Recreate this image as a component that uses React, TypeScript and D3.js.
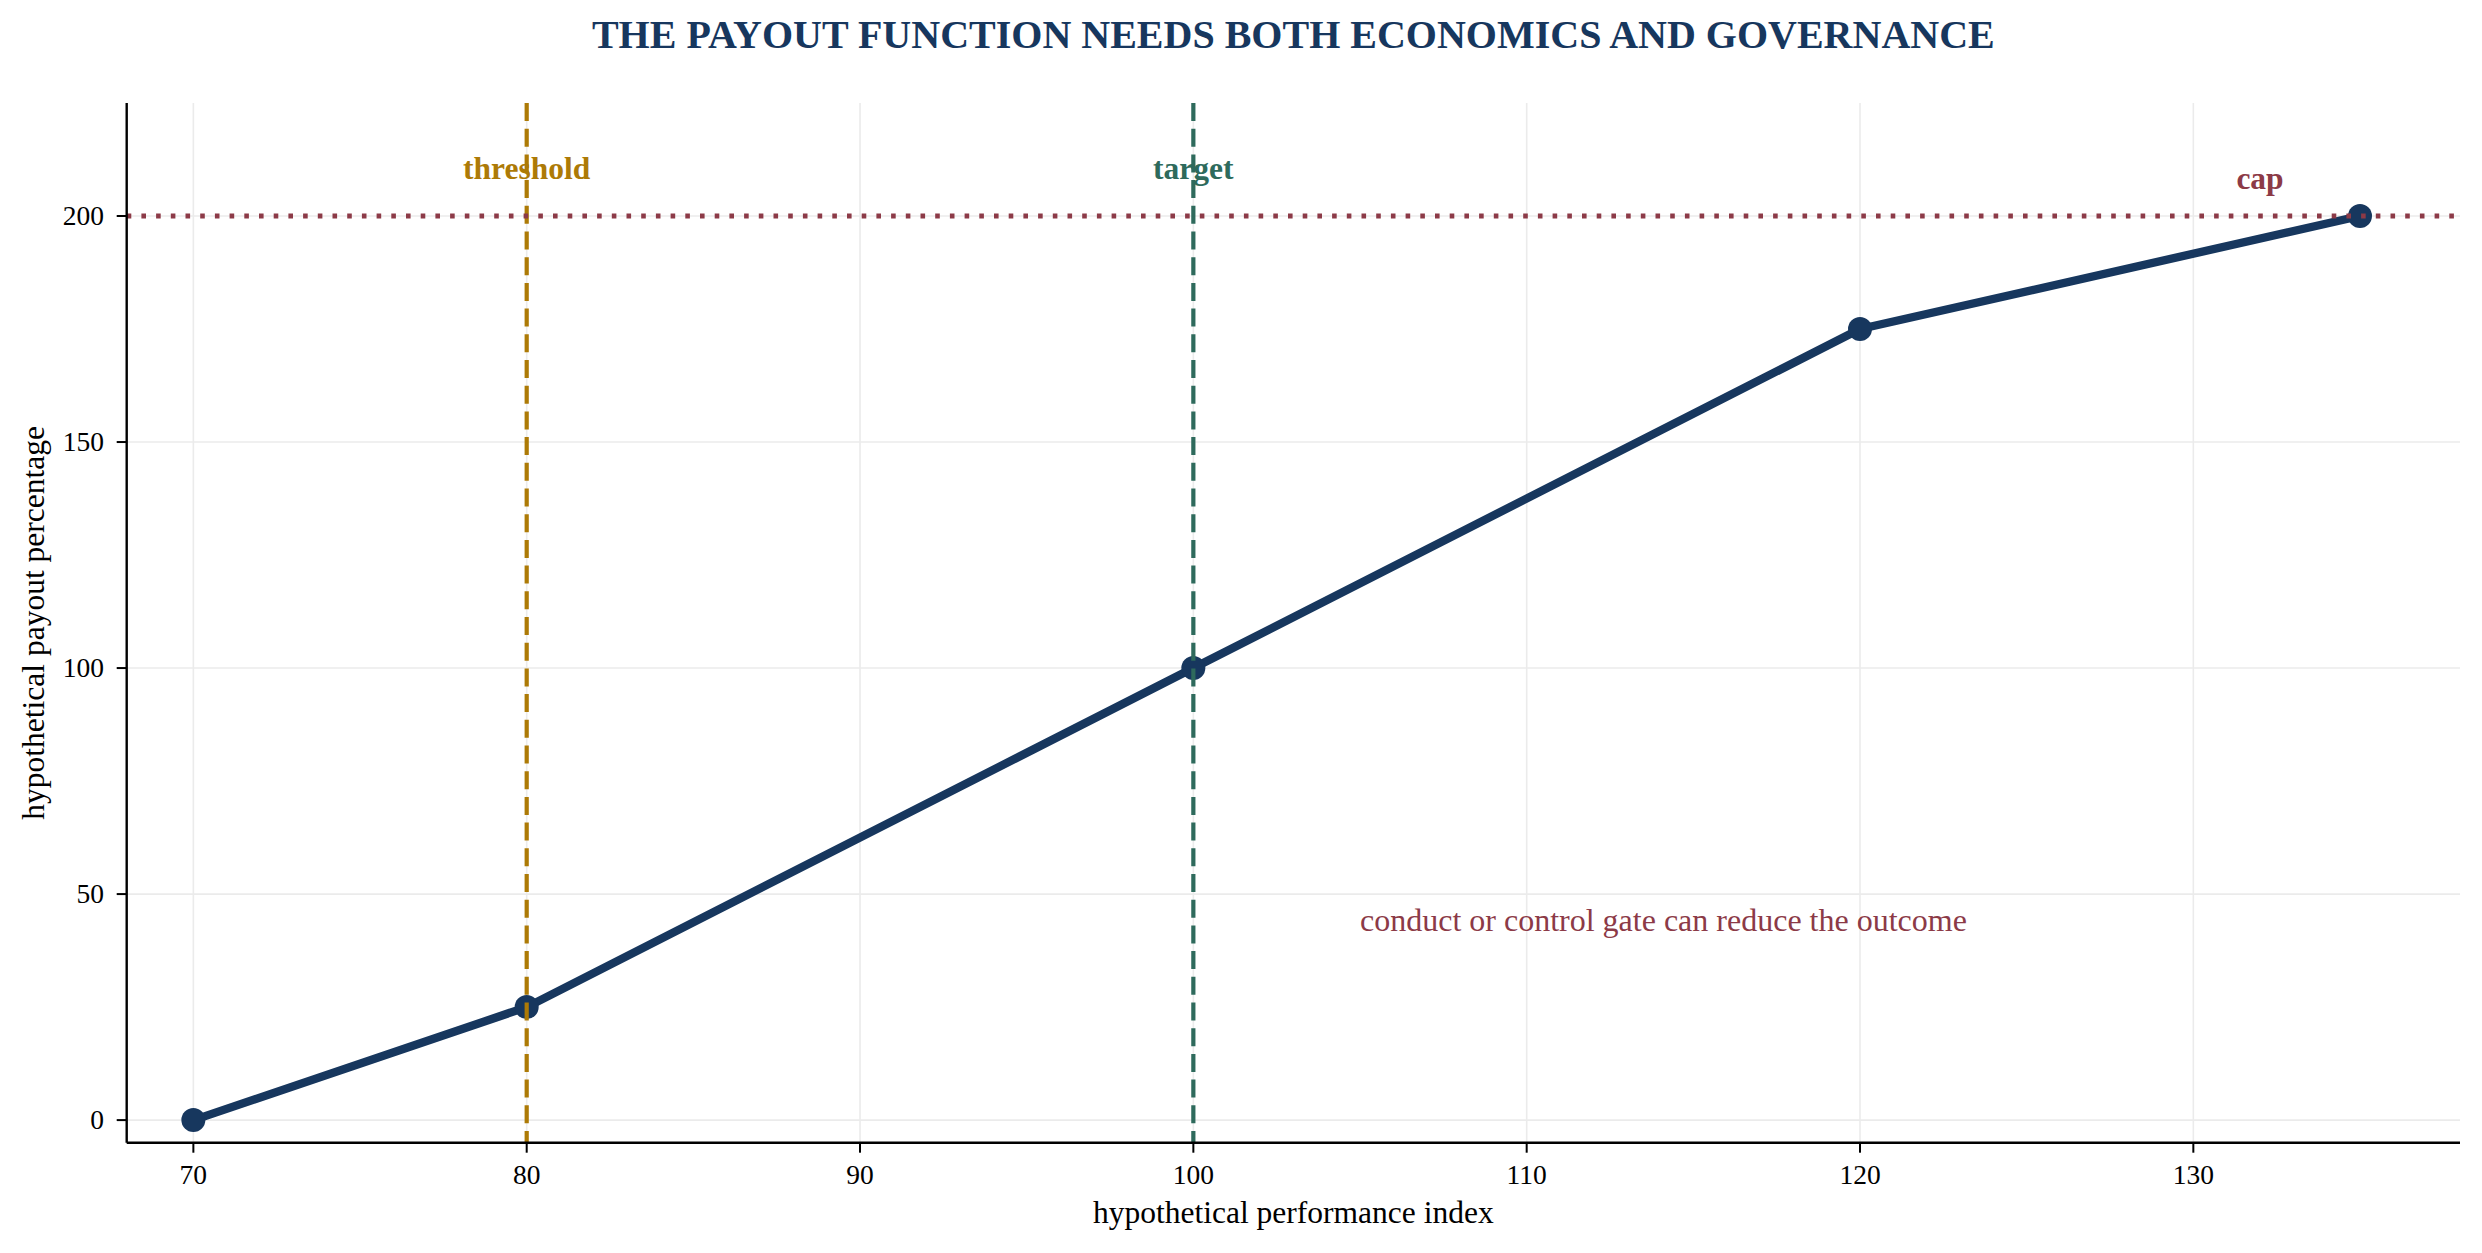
import React from "react";
import * as d3 from "d3";

const perfIndex = [70, 80, 100, 120, 135];
const payoutPct = [0, 25, 100, 175, 200];
const xTicks = [70, 80, 90, 100, 110, 120, 130];
const yTicks = [0, 50, 100, 150, 200];
const xDomain = [68, 138];
const yDomain = [-5, 225];
const thresholdX = 80;
const targetX = 100;
const capY = 200;
const refLabels = [
  { text: "threshold", x: 80, y: 208.2, color: "#ad7a06" },
  { text: "target", x: 100, y: 208.2, color: "#2e6a5c" },
  { text: "cap", x: 132, y: 206, color: "#8c3a47" },
];
const noteText = "conduct or control gate can reduce the outcome";
const noteX = 105;
const noteY = 41.8;
const title = "THE PAYOUT FUNCTION NEEDS BOTH ECONOMICS AND GOVERNANCE";
const xLabel = "hypothetical performance index";
const yLabel = "hypothetical payout percentage";

const W = 2482;
const H = 1253;
const M = { left: 126.7, right: 2460, top: 103, bottom: 1142.7 };
const NAVY = "#17375e";
const FONT = "'Liberation Serif', 'Times New Roman', serif";

export default function App() {
  const x = d3.scaleLinear().domain(xDomain).range([M.left, M.right]);
  const y = d3.scaleLinear().domain(yDomain).range([M.bottom, M.top]);
  const pts = perfIndex.map((v, i) => [v, payoutPct[i]] as [number, number]);
  const line = d3
    .line<[number, number]>()
    .x((d) => x(d[0]))
    .y((d) => y(d[1]));

  return (
    <svg
      width={W}
      height={H}
      style={{ position: "absolute", left: 0, top: 0, background: "#fff" }}
      fontFamily={FONT}
    >
      <rect x={0} y={0} width={W} height={H} fill="#fff" />
      {/* grid */}
      {xTicks.map((t) => (
        <line key={"gx" + t} x1={x(t)} x2={x(t)} y1={M.top} y2={M.bottom} stroke="#ebebeb" strokeWidth={1.6} />
      ))}
      {yTicks.map((t) => (
        <line key={"gy" + t} x1={M.left} x2={M.right} y1={y(t)} y2={y(t)} stroke="#ebebeb" strokeWidth={1.6} />
      ))}
      {/* data */}
      <path d={line(pts) || ""} fill="none" stroke={NAVY} strokeWidth={8.3} strokeLinejoin="round" strokeLinecap="round" />
      {pts.map((p, i) => (
        <circle key={"m" + i} cx={x(p[0])} cy={y(p[1])} r={12} fill={NAVY} />
      ))}
      {/* reference lines */}
      <line x1={x(thresholdX)} x2={x(thresholdX)} y1={M.top} y2={M.bottom} stroke="#ad7a06" strokeWidth={4.2} strokeDasharray="18,7.7" />
      <line x1={x(targetX)} x2={x(targetX)} y1={M.top} y2={M.bottom} stroke="#2e6a5c" strokeWidth={4.2} strokeDasharray="18,7.7" />
      <line x1={M.left} x2={M.right} y1={y(capY)} y2={y(capY)} stroke="#8c3a47" strokeWidth={5} strokeDasharray="4.6,10.1" />
      {/* labels */}
      {refLabels.map((l) => (
        <text key={l.text} x={x(l.x)} y={y(l.y)} textAnchor="middle" fontSize={31.5} fontWeight="bold" fill={l.color}>
          {l.text}
        </text>
      ))}
      <text x={x(noteX)} y={y(noteY)} fontSize={32} fill="#8c3a47">
        {noteText}
      </text>
      {/* axes */}
      <line x1={M.left} x2={M.left} y1={M.top} y2={M.bottom} stroke="#000" strokeWidth={2.4} />
      <line x1={M.left} x2={M.right} y1={M.bottom} y2={M.bottom} stroke="#000" strokeWidth={2.4} />
      {xTicks.map((t) => (
        <g key={"xt" + t}>
          <line x1={x(t)} x2={x(t)} y1={M.bottom} y2={M.bottom + 10} stroke="#000" strokeWidth={2} />
          <text x={x(t)} y={1184} textAnchor="middle" fontSize={27.5} fill="#000">
            {t}
          </text>
        </g>
      ))}
      {yTicks.map((t) => (
        <g key={"yt" + t}>
          <line x1={M.left - 10} x2={M.left} y1={y(t)} y2={y(t)} stroke="#000" strokeWidth={2} />
          <text x={104} y={y(t)} dy="0.33em" textAnchor="end" fontSize={27.5} fill="#000">
            {t}
          </text>
        </g>
      ))}
      <text x={(M.left + M.right) / 2} y={1223} textAnchor="middle" fontSize={31.5} fill="#000">
        {xLabel}
      </text>
      <text
        transform={`translate(44, ${(M.top + M.bottom) / 2}) rotate(-90)`}
        textAnchor="middle"
        fontSize={31.5}
        fill="#000"
      >
        {yLabel}
      </text>
      <text x={(M.left + M.right) / 2} y={48.3} textAnchor="middle" fontSize={40} fontWeight="bold" fill={NAVY}>
        {title}
      </text>
    </svg>
  );
}
